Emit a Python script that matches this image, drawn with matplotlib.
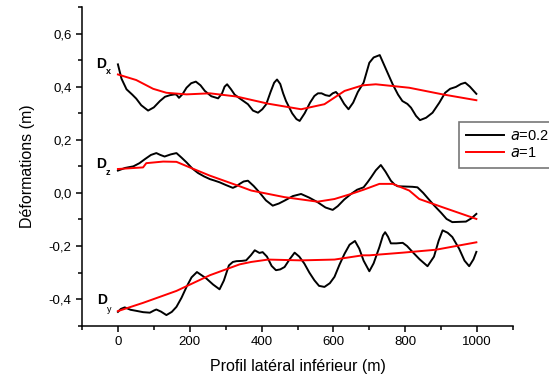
import matplotlib
matplotlib.use("Agg")
import matplotlib.pyplot as plt
from matplotlib.ticker import MultipleLocator, FuncFormatter

plt.rcParams['font.family'] = ['Liberation Sans', 'DejaVu Sans']

# Dx, a=0.2
dx_x = [0, 10, 24, 40, 51, 65, 84, 100, 117, 131, 145, 158, 163, 170, 180, 191, 204, 217,
        230, 242, 260, 279, 290, 297, 304, 315, 325, 340, 362, 376, 390, 402, 413, 425, 435,
        443, 452, 460, 468, 485, 497, 506, 520, 535, 547, 557, 567, 578, 589, 598, 607, 617,
        630, 642, 655, 668, 684, 700, 712, 729, 745, 765, 780, 792, 806, 816, 830, 841, 858,
        876, 895, 911, 925, 941, 955, 967, 980, 998]
dx_y = [0.484, 0.43, 0.39, 0.37, 0.355, 0.33, 0.31, 0.322, 0.346, 0.362, 0.368, 0.371, 0.37,
        0.358, 0.372, 0.396, 0.413, 0.419, 0.405, 0.384, 0.364, 0.356, 0.375, 0.40, 0.409,
        0.39, 0.37, 0.355, 0.334, 0.31, 0.302, 0.315, 0.334, 0.38, 0.415, 0.427, 0.41, 0.375,
        0.346, 0.30, 0.278, 0.271, 0.30, 0.34, 0.365, 0.375, 0.375, 0.368, 0.365, 0.375, 0.38,
        0.365, 0.335, 0.315, 0.34, 0.38, 0.415, 0.49, 0.51, 0.519, 0.47, 0.409, 0.37, 0.346,
        0.335, 0.321, 0.29, 0.274, 0.283, 0.302, 0.34, 0.377, 0.392, 0.399, 0.41, 0.415, 0.40,
        0.373]
# Dx, a=1
dx1_x = [0, 51, 98, 135, 191, 256, 330, 418, 510, 575, 631, 681, 718, 811, 904, 998]
dx1_y = [0.446, 0.425, 0.392, 0.377, 0.371, 0.375, 0.363, 0.336, 0.315, 0.334, 0.384, 0.405,
         0.409, 0.396, 0.371, 0.349]

# Dz, a=0.2
dz_x = [0, 20, 43, 60, 75, 92, 107, 118, 130, 147, 163, 177, 191, 207, 223, 240, 256, 270,
        283, 300, 320, 330, 339, 350, 362, 378, 394, 412, 431, 448, 464, 487, 510, 533, 556,
        578, 598, 612, 630, 649, 666, 684, 695, 705, 718, 732, 745, 760, 770, 779, 800, 820,
        834, 850, 866, 881, 900, 915, 931, 950, 969, 985, 998]
dz_y = [0.084, 0.094, 0.10, 0.112, 0.127, 0.143, 0.150, 0.143, 0.137, 0.145, 0.150, 0.133,
        0.115, 0.092, 0.075, 0.062, 0.052, 0.046, 0.040, 0.03, 0.019, 0.025, 0.034, 0.043,
        0.046, 0.026, 0.002, -0.028, -0.048, -0.04, -0.029, -0.012, -0.004, -0.018, -0.035,
        -0.055, -0.064, -0.05, -0.025, -0.004, 0.012, 0.021, 0.04, 0.059, 0.085, 0.105, 0.08,
        0.046, 0.032, 0.025, 0.024, 0.023, 0.021, 0.0, -0.025, -0.048, -0.075, -0.098, -0.110,
        -0.109, -0.108, -0.095, -0.079]
# Dz, a=1
dz1_x = [0, 70, 79, 126, 163, 200, 256, 339, 371, 464, 556, 603, 649, 684, 728, 765, 811,
         839, 904, 998]
dz1_y = [0.09, 0.096, 0.112, 0.118, 0.117, 0.096, 0.065, 0.025, 0.009, -0.016, -0.033,
         -0.023, -0.004, 0.012, 0.034, 0.034, 0.009, -0.023, -0.054, -0.098]

# Dy, a=0.2
dy_x = [0, 8, 19, 35, 51, 70, 89, 100, 107, 120, 135, 150, 163, 177, 191, 205, 220, 233, 246,
        265, 283, 295, 309, 320, 330, 345, 357, 370, 381, 394, 403, 415, 428, 440, 452, 464,
        478, 492, 505, 519, 533, 547, 560, 575, 590, 603, 617, 631, 645, 660, 672, 684, 700,
        712, 728, 738, 744, 752, 760, 775, 793, 805, 820, 840, 862, 880, 893, 904, 918, 931,
        950, 965, 978, 990, 998]
dy_y = [-0.448, -0.437, -0.431, -0.44, -0.444, -0.449, -0.451, -0.443, -0.439, -0.447, -0.46,
        -0.448, -0.429, -0.395, -0.354, -0.318, -0.298, -0.31, -0.322, -0.345, -0.363, -0.33,
        -0.273, -0.26, -0.257, -0.256, -0.254, -0.235, -0.216, -0.226, -0.223, -0.24, -0.275,
        -0.291, -0.288, -0.279, -0.25, -0.225, -0.24, -0.266, -0.30, -0.329, -0.35, -0.354,
        -0.34, -0.316, -0.27, -0.229, -0.195, -0.181, -0.21, -0.255, -0.295, -0.265, -0.204,
        -0.16, -0.148, -0.165, -0.19, -0.19, -0.188, -0.20, -0.222, -0.25, -0.276, -0.24,
        -0.18, -0.141, -0.15, -0.166, -0.21, -0.255, -0.276, -0.25, -0.222]
# Dy, a=1
dy1_x = [0, 70, 163, 256, 339, 371, 418, 510, 603, 681, 700, 793, 885, 998]
dy1_y = [-0.445, -0.414, -0.369, -0.310, -0.269, -0.260, -0.251, -0.254, -0.251, -0.235,
         -0.235, -0.225, -0.214, -0.186]

W, H = 549, 378
fig = plt.figure(figsize=(W / 100, H / 100), dpi=100)
ax = fig.add_axes([82 / W, 1 - 325.7 / H, (513 - 82) / W, (325.7 - 7) / H])

lw = 1.4
l1, = ax.plot(dx_x, dx_y, color='black', lw=lw)
l2, = ax.plot(dx1_x, dx1_y, color='red', lw=lw)
ax.plot(dz_x, dz_y, color='black', lw=lw)
ax.plot(dz1_x, dz1_y, color='red', lw=lw)
ax.plot(dy_x, dy_y, color='black', lw=lw)
ax.plot(dy1_x, dy1_y, color='red', lw=lw)

ax.set_xlim(-100, 1100)
ax.set_ylim(-0.5, 0.7)
ax.xaxis.set_major_locator(MultipleLocator(200))
ax.xaxis.set_minor_locator(MultipleLocator(100))
ax.yaxis.set_major_locator(MultipleLocator(0.2))
ax.yaxis.set_minor_locator(MultipleLocator(0.1))
ax.xaxis.set_major_formatter(FuncFormatter(lambda v, p: '%d' % v if 0 <= v <= 1000 else ''))
ax.yaxis.set_major_formatter(FuncFormatter(lambda v, p: ('%.1f' % v).replace('.', ',')))

for s in ['top', 'right']:
    ax.spines[s].set_visible(False)
for s in ['left', 'bottom']:
    ax.spines[s].set_linewidth(1.1)
ax.tick_params(which='major', direction='out', length=4, width=1.1, labelsize=9.5)
ax.tick_params(which='minor', direction='out', length=3, width=1.1)

ax.set_xlabel('Profil latéral inférieur (m)', fontsize=11.5, labelpad=8)
ax.set_ylabel('Déformations (m)', fontsize=11.5, labelpad=10)

def flabel(px, py, main, sub, subpy, subweight='bold'):
    fig.text(px / W, 1 - py / H, main, fontsize=10, fontweight='bold', va='center', ha='left')
    fig.text((px + 10) / W, 1 - subpy / H, sub, fontsize=6.5, fontweight=subweight,
             va='center', ha='left')

flabel(96, 63.5, 'D', 'x', 71.5)
flabel(96, 164, 'D', 'z', 172.5)
flabel(97, 300, 'D', 'y', 309.5, 'normal')

leg = ax.legend([l1, l2], ['$a$=0.2', '$a$=1'], loc='upper left',
                bbox_to_anchor=(459 / W, 1 - 122 / H), bbox_transform=fig.transFigure,
                borderaxespad=0, fancybox=False, fontsize=10.5, handlelength=2.6,
                labelspacing=0.2, borderpad=0.5, handletextpad=0.4)
leg.get_frame().set_edgecolor('#555555')
leg.get_frame().set_linewidth(1.2)

fig.savefig('out.png', dpi=100)
